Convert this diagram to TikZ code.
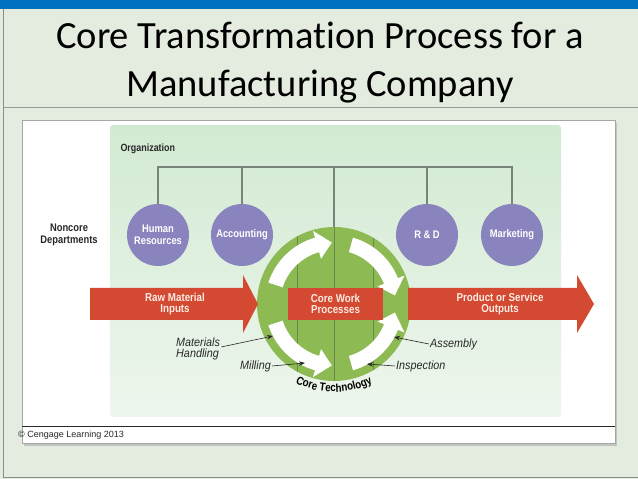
\documentclass[tikz,border=0pt]{standalone}
\usepackage{fontspec}
\setmainfont[Ligatures={NoCommon}]{Carlito}
\newfontfamily\figfont[FakeStretch=0.85]{Liberation Sans}
\newfontfamily\tagfont[FakeStretch=0.9]{Liberation Sans}
\newfontfamily\creditfont{Liberation Sans}
\usetikzlibrary{arrows.meta,positioning,shadows,decorations.text}
\definecolor{band}{RGB}{0,112,192}
\definecolor{slide}{RGB}{227,236,222}
\definecolor{panelhi}{RGB}{210,234,210}
\definecolor{panello}{RGB}{238,246,237}
\definecolor{deptpurple}{RGB}{137,132,190}
\definecolor{tech}{RGB}{141,186,82}
\definecolor{techline}{RGB}{104,138,74}
\definecolor{flowred}{RGB}{211,73,49}
\definecolor{flowtext}{RGB}{255,236,228}
\definecolor{bracket}{RGB}{118,132,122}
\definecolor{ink}{RGB}{40,40,40}
\tikzset{
  dept/.style={circle, fill=deptpurple, minimum size=62pt, inner sep=0pt, text=white,
               font=\figfont\bfseries\fontsize{11}{11.5}\selectfont, align=center},
  heading/.style={text=ink, font=\figfont\bfseries\fontsize{11}{11.5}\selectfont, align=center},
  flowlabel/.style={text=flowtext, font=\figfont\bfseries\fontsize{11.5}{11.5}\selectfont, align=center},
  workbox/.style={fill=flowred, minimum width=95pt, minimum height=32pt, inner sep=0pt,
               text=flowtext, font=\figfont\bfseries\fontsize{11.5}{11.5}\selectfont, align=center},
  tag/.style={text=ink, font=\tagfont\itshape\fontsize{12}{11}\selectfont, align=left, inner sep=1pt},
  pointer/.style={-{Stealth[length=6pt,width=4.5pt]}, ink, semithick},
  bracketline/.style={bracket, line width=1.1pt},
}
\begin{document}
\begin{tikzpicture}[x=1pt,y=1pt]
    \useasboundingbox (0,0) rectangle (638,479);
    % slide
    \fill[slide] (0,0) rectangle (638,479);
    \fill[band] (0,470) rectangle (638,479);
    \draw[black!45] (3,470) -- (3,2) -- (638,2);
    \draw[black!40] (3,372) -- (638,372);
    \node[anchor=base, font=\fontsize{38.5}{44}\selectfont] (title1) at (320,430) {Core Transformation Process for a};
    \node[anchor=base, font=\fontsize{38.5}{44}\selectfont] (title2) at (320,382) {Manufacturing Company};
    % panel
    \fill[white, drop shadow={shadow xshift=2pt, shadow yshift=-3pt, opacity=.35}] (22,36) rectangle (615,359);
    \draw[black!35] (22,36) rectangle (615,359);
    \shade[top color=panelhi, bottom color=panello, rounded corners=3pt] (110,62) rectangle (561,354);
    \draw[ink, semithick] (22,53) -- (615,53);
    \node[anchor=base west, inner sep=0pt, text=ink, font=\creditfont\fontsize{9}{10}\selectfont] (credit) at (18,41) {© Cengage Learning 2013};
    % organization
    \node[heading, anchor=west, font=\figfont\bfseries\fontsize{10.5}{11}\selectfont] (orgtitle) at (117,330) {Organization};
    \node[heading] (noncore) at (69,244) {Noncore\\Departments};
    \coordinate (org) at (334,312);
    \node[dept] (hr) at (158,244) {Human\\Resources};
    \node[dept] (acc) at (242,244) {Accounting};
    \node[dept] (rd) at (427,244) {R \& D};
    \node[dept] (mkt) at (512,244) {Marketing};
    \node[circle, fill=tech, minimum size=154pt, inner sep=0pt] (core) at (334,175) {};
    \draw[bracketline] (hr.north) -- (hr.north |- org) -- (mkt.north |- org) -- (mkt.north);
    \draw[bracketline] (acc.north) -- (acc.north |- org);
    \draw[bracketline] (rd.north) -- (rd.north |- org);
    \draw[bracketline] (org) -- (core.north);
    \begin{scope}
      \clip (core.center) circle (77);
      \foreach \x in {297,334,373} \draw[techline, line width=1pt] (\x,90) -- (\x,260);
    \end{scope}
    % white flow arrows round the core
    \begin{scope}[shift={(core.center)}]
      \foreach \a/\h/\b in {162/106/92, 74/22/8, -74/-22/-8, 198/254/268}
        \fill[white] (\a:69) arc[start angle=\a, end angle=\h, radius=69] -- (\h:76) -- (\b:61.5)
          -- (\h:47) -- (\h:54) arc[start angle=\h, end angle=\a, radius=54] -- cycle;
    \end{scope}
    % input and output
    \fill[flowred] (90,159) -- (243,159) -- (243,146) -- (258,175) -- (243,204) -- (243,191) -- (90,191) -- cycle;
    \fill[flowred] (408,159) -- (577,159) -- (577,146) -- (594,175) -- (577,204) -- (577,191) -- (408,191) -- cycle;
    \node[flowlabel] (rawin) at (175,175) {Raw Material\\Inputs};
    \node[flowlabel] (outputs) at (500,175) {Product or Service\\Outputs};
    \node[workbox] (work) at (335.5,175) {Core Work\\Processes};
    % technology steps
    \node[tag, anchor=west] (handling) at (175,130) {Materials\\Handling};
    \node[tag, anchor=west] (milling) at (239,113) {Milling};
    \node[tag, anchor=west] (assembly) at (429,135) {Assembly};
    \node[tag, anchor=west] (inspection) at (395,113) {Inspection};
    \coordinate (handlingtip) at (273,143);
    \coordinate (millingtip) at (305,116);
    \coordinate (assemblytip) at (394,142);
    \coordinate (inspectiontip) at (367,115);
    \draw[pointer] ([yshift=2pt]handling.east) -- (handlingtip);
    \draw[pointer] (milling.east) -- (millingtip);
    \draw[pointer] (assembly.west) -- (assemblytip);
    \draw[pointer] (inspection.west) -- (inspectiontip);
    \path[decorate, decoration={text along path, text align=center,
        text={|\figfont\bfseries\fontsize{11.5}{12}\selectfont|Core Technology}}]
      ([shift={(228:88)}]core.center) arc[start angle=228, end angle=312, radius=88];
\end{tikzpicture}
\end{document}
